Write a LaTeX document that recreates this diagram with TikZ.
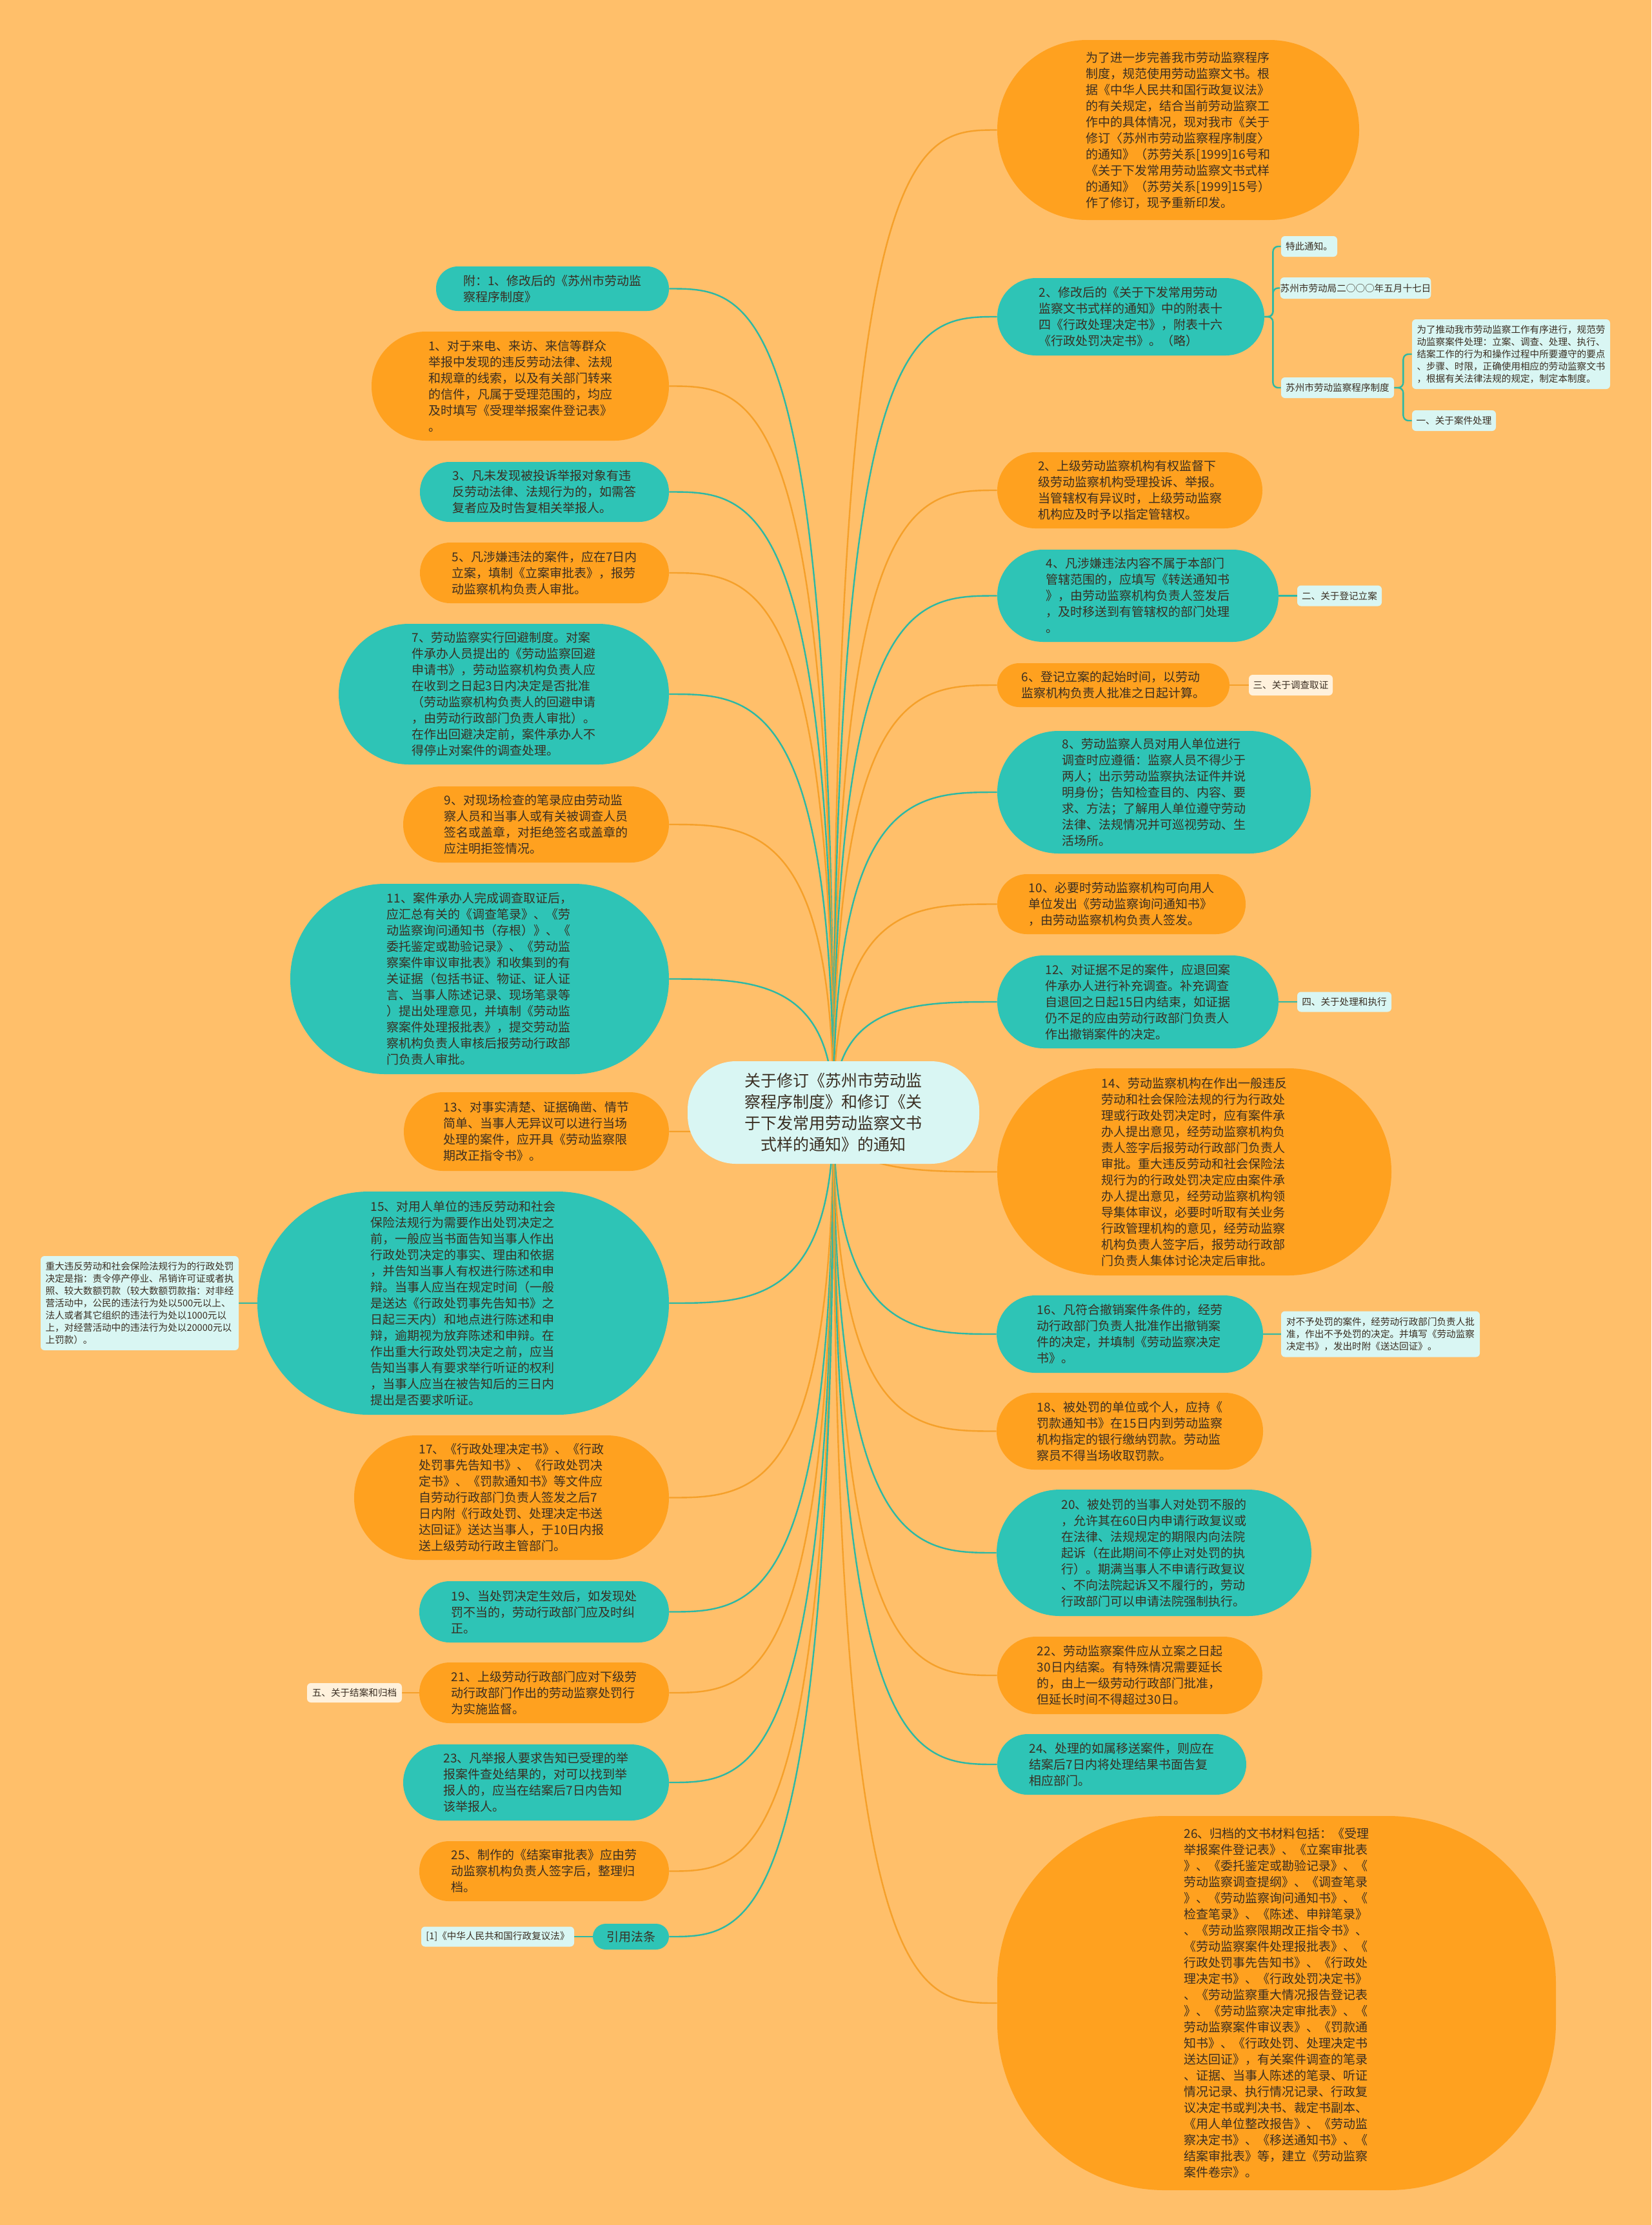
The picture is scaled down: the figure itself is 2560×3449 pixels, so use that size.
\documentclass[tikz,border=0pt]{standalone}
\usepackage{fontspec}
\newfontfamily\cjk{Noto Sans CJK SC}
\usetikzlibrary{calc}
\definecolor{bgc}{HTML}{FFBF6A}
\definecolor{onode}{HTML}{FFA11F}
\definecolor{tnode}{HTML}{2EC4B6}
\definecolor{cnode}{HTML}{D9F6F3}
\definecolor{crnode}{HTML}{FFF1DC}
\definecolor{txt}{HTML}{3A2E22}
\definecolor{oline}{HTML}{F5A02A}
\definecolor{tline}{HTML}{2DB8A4}
\pgfdeclarelayer{bgl}
\pgfdeclarelayer{edl}
\pgfsetlayers{bgl,edl,main}
\tikzset{
  base/.style={inner sep=0pt, align=left, text=txt, font=\cjk\fontsize{9.5pt}{12.5pt}\selectfont},
  obox/.style={base, fill=onode},
  tbox/.style={base, fill=tnode},
  cbox/.style={base, fill=cnode, rounded corners=3pt, font=\cjk\fontsize{7.3pt}{9.5pt}\selectfont},
  crbox/.style={cbox, fill=crnode},
  mw/.style={minimum width=#1*0.5pt},
  mh/.style={minimum height=#1*0.5pt},
  rc/.style={rounded corners=#1*0.5pt},
  oedge/.style={draw=oline, line width=1.2pt},
  tedge/.style={draw=tline, line width=1.2pt},
}
\newcommand{\medge}[3]{%
  \draw[#1] let \p1=(#2.center), \p2=(#3) in
    (\p1) .. controls (\x1,\y2) and ({\x1+0.5*(\x2-\x1)},\y2) .. (\p2);}
\begin{document}
\begin{tikzpicture}[x=0.5pt,y=-0.5pt]
\begin{pgfonlayer}{bgl}
\fill[bgc] (0,0) rectangle (2560,3449);
\end{pgfonlayer}
\useasboundingbox (0,0) rectangle (2560,3449);

% centre
\node[base, fill=cnode, align=center, mw=452, mh=159, rc=75, font=\cjk\fontsize{12.5pt}{16.4pt}\selectfont] (c) at (1292,1724.5)
{关于修订《苏州市劳动监\\察程序制度》和修订《关\\于下发常用劳动监察文书\\式样的通知》的通知};

% ---------------- right side
\node[obox, mw=561, mh=279, rc=139] (r0) at (1826.5,201.5)
{为了进一步完善我市劳动监察程序\\制度，规范使用劳动监察文书。根\\据《中华人民共和国行政复议法》\\的有关规定，结合当前劳动监察工\\作中的具体情况，现对我市《关于\\修订〈苏州市劳动监察程序制度〉\\的通知》（苏劳关系[1999]16号和\\《关于下发常用劳动监察文书式样\\的通知》（苏劳关系[1999]15号）\\作了修订，现予重新印发。};

\node[tbox, mw=414, mh=120, rc=60] (r2mod) at (1753,491)
{2、修改后的《关于下发常用劳动\\监察文书式样的通知》中的附表十\\四《行政处理决定书》，附表十六\\《行政处罚决定书》。（略）};
\node[cbox, mw=87, mh=32] (rt1) at (2029.5,382) {特此通知。};
\node[cbox, mw=231, mh=33] (rt2) at (2101.5,446.5) {苏州市劳动局二○○○年五月十七日};
\node[cbox, mw=175, mh=32] (rt3) at (2073.5,601) {苏州市劳动监察程序制度};
\node[cbox, mw=307, mh=108] (rt4) at (2342.5,549)
{为了推动我市劳动监察工作有序进行，规范劳\\动监察案件处理：立案、调查、处理、执行、\\结案工作的行为和操作过程中所要遵守的要点\\、步骤、时限，正确使用相应的劳动监察文书\\，根据有关法律法规的规定，制定本制度。};
\node[cbox, mw=130, mh=32] (rt5) at (2254,652) {一、关于案件处理};

\node[obox, mw=411, mh=118, rc=59] (r2sup) at (1751.5,760)
{2、上级劳动监察机构有权监督下\\级劳动监察机构受理投诉、举报。\\当管辖权有异议时，上级劳动监察\\机构应及时予以指定管辖权。};

\node[tbox, mw=436, mh=143, rc=71] (r4) at (1764,923.5)
{4、凡涉嫌违法内容不属于本部门\\管辖范围的，应填写《转送通知书\\》，由劳动监察机构负责人签发后\\，及时移送到有管辖权的部门处理\\。};
\node[cbox, mw=131, mh=32] (r4l) at (2076.5,923.5) {二、关于登记立案};

\node[obox, mw=360, mh=68, rc=34] (r6) at (1726,1062)
{6、登记立案的起始时间，以劳动\\监察机构负责人批准之日起计算。};
\node[crbox, mw=130, mh=32] (r6l) at (2001,1062) {三、关于调查取证};

\node[tbox, mw=486, mh=190, rc=95] (r8) at (1789,1228)
{8、劳动监察人员对用人单位进行\\调查时应遵循：监察人员不得少于\\两人；出示劳动监察执法证件并说\\明身份；告知检查目的、内容、要\\求、方法；了解用人单位遵守劳动\\法律、法规情况并可巡视劳动、生\\活场所。};

\node[obox, mw=385, mh=93, rc=46] (r10) at (1738.5,1401.5)
{10、必要时劳动监察机构可向用人\\单位发出《劳动监察询问通知书》\\，由劳动监察机构负责人签发。};

\node[tbox, mw=436, mh=144, rc=72] (r12) at (1764,1553)
{12、对证据不足的案件，应退回案\\件承办人进行补充调查。补充调查\\自退回之日起15日内结束，如证据\\仍不足的应由劳动行政部门负责人\\作出撤销案件的决定。};
\node[cbox, mw=146, mh=31] (r12l) at (2084,1553) {四、关于处理和执行};

\node[obox, mw=611, mh=321, rc=160] (r14) at (1851.5,1816.5)
{14、劳动监察机构在作出一般违反\\劳动和社会保险法规的行为行政处\\理或行政处罚决定时，应有案件承\\办人提出意见，经劳动监察机构负\\责人签字后报劳动行政部门负责人\\审批。重大违反劳动和社会保险法\\规行为的行政处罚决定应由案件承\\办人提出意见，经劳动监察机构领\\导集体审议，必要时听取有关业务\\行政管理机构的意见，经劳动监察\\机构负责人签字后，报劳动行政部\\门负责人集体讨论决定后审批。};

\node[tbox, mw=413, mh=120, rc=60] (r16) at (1751.5,2068)
{16、凡符合撤销案件条件的，经劳\\动行政部门负责人批准作出撤销案\\件的决定，并填制《劳动监察决定\\书》。};
\node[cbox, mw=308, mh=71] (r16l) at (2140,2068)
{对不予处罚的案件，经劳动行政部门负责人批\\准，作出不予处罚的决定。并填写《劳动监察\\决定书》，发出时附《送达回证》。};

\node[obox, mw=413, mh=119, rc=59] (r18) at (1751.5,2218.5)
{18、被处罚的单位或个人，应持《\\罚款通知书》在15日内到劳动监察\\机构指定的银行缴纳罚款。劳动监\\察员不得当场收取罚款。};

\node[tbox, mw=488, mh=196, rc=98] (r20) at (1789,2407)
{20、被处罚的当事人对处罚不服的\\，允许其在60日内申请行政复议或\\在法律、法规规定的期限内向法院\\起诉（在此期间不停止对处罚的执\\行）。期满当事人不申请行政复议\\、不向法院起诉又不履行的，劳动\\行政部门可以申请法院强制执行。};

\node[obox, mw=411, mh=120, rc=60] (r22) at (1751.5,2597)
{22、劳动监察案件应从立案之日起\\30日内结案。有特殊情况需要延长\\的，由上一级劳动行政部门批准，\\但延长时间不得超过30日。};

\node[tbox, mw=386, mh=94, rc=47] (r24) at (1739,2735)
{24、处理的如属移送案件，则应在\\结案后7日内将处理结果书面告复\\相应部门。};

\node[obox, mw=866, mh=580, rc=260] (r26) at (1979,3105)
{26、归档的文书材料包括：《受理\\举报案件登记表》、《立案审批表\\》、《委托鉴定或勘验记录》、《\\劳动监察调查提纲》、《调查笔录\\》、《劳动监察询问通知书》、《\\检查笔录》、《陈述、申辩笔录》\\、《劳动监察限期改正指令书》、\\《劳动监察案件处理报批表》、《\\行政处罚事先告知书》、《行政处\\理决定书》、《行政处罚决定书》\\、《劳动监察重大情况报告登记表\\》、《劳动监察决定审批表》、《\\劳动监察案件审议表》、《罚款通\\知书》、《行政处罚、处理决定书\\送达回证》，有关案件调查的笔录\\、证据、当事人陈述的笔录、听证\\情况记录、执行情况记录、行政复\\议决定书或判决书、裁定书副本、\\《用人单位整改报告》、《劳动监\\察决定书》、《移送通知书》、《\\结案审批表》等，建立《劳动监察\\案件卷宗》。};

% ---------------- left side
\node[tbox, mw=361, mh=69, rc=34] (l0) at (856.5,447.5)
{附：1、修改后的《苏州市劳动监\\察程序制度》};

\node[obox, mw=461, mh=169, rc=84] (l1) at (806.5,598.5)
{1、对于来电、来访、来信等群众\\举报中发现的违反劳动法律、法规\\和规章的线索，以及有关部门转来\\的信件，凡属于受理范围的，均应\\及时填写《受理举报案件登记表》\\。};

\node[tbox, mw=386, mh=93, rc=46] (l3) at (844,762.5)
{3、凡未发现被投诉举报对象有违\\反劳动法律、法规行为的，如需答\\复者应及时告复相关举报人。};

\node[obox, mw=386, mh=94, rc=47] (l5) at (844,888)
{5、凡涉嫌违法的案件，应在7日内\\立案，填制《立案审批表》，报劳\\动监察机构负责人审批。};

\node[tbox, mw=512, mh=218, rc=109] (l7) at (781,1076)
{7、劳动监察实行回避制度。对案\\件承办人员提出的《劳动监察回避\\申请书》，劳动监察机构负责人应\\在收到之日起3日内决定是否批准\\（劳动监察机构负责人的回避申请\\，由劳动行政部门负责人审批）。\\在作出回避决定前，案件承办人不\\得停止对案件的调查处理。};

\node[obox, mw=412, mh=118, rc=59] (l9) at (831,1278)
{9、对现场检查的笔录应由劳动监\\察人员和当事人或有关被调查人员\\签名或盖章，对拒绝签名或盖章的\\应注明拒签情况。};

\node[tbox, mw=587, mh=295, rc=147] (l11) at (743.5,1517.5)
{11、案件承办人完成调查取证后，\\应汇总有关的《调查笔录》、《劳\\动监察询问通知书（存根）》、《\\委托鉴定或勘验记录》、《劳动监\\察案件审议审批表》和收集到的有\\关证据（包括书证、物证、证人证\\言、当事人陈述记录、现场笔录等\\）提出处理意见，并填制《劳动监\\察案件处理报批表》，提交劳动监\\察机构负责人审核后报劳动行政部\\门负责人审批。};

\node[obox, mw=411, mh=122, rc=61] (l13) at (831.5,1754)
{13、对事实清楚、证据确凿、情节\\简单、当事人无异议可以进行当场\\处理的案件，应开具《劳动监察限\\期改正指令书》。};

\node[tbox, mw=638, mh=346, rc=173] (l15) at (718,2020)
{15、对用人单位的违反劳动和社会\\保险法规行为需要作出处罚决定之\\前，一般应当书面告知当事人作出\\行政处罚决定的事实、理由和依据\\，并告知当事人有权进行陈述和申\\辩。当事人应当在规定时间（一般\\是送达《行政处罚事先告知书》之\\日起三天内）和地点进行陈述和申\\辩，逾期视为放弃陈述和申辩。在\\作出重大行政处罚决定之前，应当\\告知当事人有要求举行听证的权利\\，当事人应当在被告知后的三日内\\提出是否要求听证。};
\node[cbox, mw=307, mh=146] (l15l) at (216.5,2020)
{重大违反劳动和社会保险法规行为的行政处罚\\决定是指：责令停产停业、吊销许可证或者执\\照、较大数额罚款（较大数额罚款指：对非经\\营活动中，公民的违法行为处以500元以上、\\法人或者其它组织的违法行为处以1000元以\\上，对经营活动中的违法行为处以20000元以\\上罚款）。};

\node[obox, mw=488, mh=193, rc=96] (l17) at (793,2321.5)
{17、《行政处理决定书》、《行政\\处罚事先告知书》、《行政处罚决\\定书》、《罚款通知书》等文件应\\自劳动行政部门负责人签发之后7\\日内附《行政处罚、处理决定书送\\达回证》送达当事人，于10日内报\\送上级劳动行政主管部门。};

\node[tbox, mw=387, mh=95, rc=47] (l19) at (843.5,2498.5)
{19、当处罚决定生效后，如发现处\\罚不当的，劳动行政部门应及时纠\\正。};

\node[obox, mw=387, mh=94, rc=47] (l21) at (843.5,2624)
{21、上级劳动行政部门应对下级劳\\动行政部门作出的劳动监察处罚行\\为实施监督。};
\node[crbox, mw=147, mh=30] (l21l) at (549.5,2624) {五、关于结案和归档};

\node[tbox, mw=412, mh=118, rc=59] (l23) at (831,2763)
{23、凡举报人要求告知已受理的举\\报案件查处结果的，对可以找到举\\报人的，应当在结案后7日内告知\\该举报人。};

\node[obox, mw=387, mh=93, rc=46] (l25) at (843.5,2900.5)
{25、制作的《结案审批表》应由劳\\动监察机构负责人签字后，整理归\\档。};

\node[tbox, mw=118, mh=40, rc=20] (l27) at (978,3002) {引用法条};
\node[cbox, mw=237, mh=31] (l27l) at (771.5,3002) {[1]《中华人民共和国行政复议法》};

% ---------------- connectors
\begin{pgfonlayer}{edl}
\medge{tedge}{c}{l0.east}
\medge{oedge}{c}{l1.east}
\medge{tedge}{c}{l3.east}
\medge{oedge}{c}{l5.east}
\medge{tedge}{c}{l7.east}
\medge{oedge}{c}{l9.east}
\medge{tedge}{c}{l11.east}
\medge{oedge}{c}{l13.east}
\medge{tedge}{c}{l15.east}
\medge{oedge}{c}{l17.east}
\medge{tedge}{c}{l19.east}
\medge{oedge}{c}{l21.east}
\medge{tedge}{c}{l23.east}
\medge{oedge}{c}{l25.east}
\medge{tedge}{c}{l27.east}
\medge{oedge}{c}{r0.west}
\medge{tedge}{c}{r2mod.west}
\medge{oedge}{c}{r2sup.west}
\medge{tedge}{c}{r4.west}
\medge{oedge}{c}{r6.west}
\medge{tedge}{c}{r8.west}
\medge{oedge}{c}{r10.west}
\medge{tedge}{c}{r12.west}
\medge{oedge}{c}{r14.west}
\medge{tedge}{c}{r16.west}
\medge{oedge}{c}{r18.west}
\medge{tedge}{c}{r20.west}
\medge{oedge}{c}{r22.west}
\medge{tedge}{c}{r24.west}
\medge{oedge}{c}{r26.west}
% sub branches
\draw[tedge, rounded corners=4pt] (r2mod.east) -- ++(13,0) |- (rt1.west);
\draw[tedge, rounded corners=4pt] (r2mod.east) -- ++(13,0) |- (rt2.west);
\draw[tedge, rounded corners=4pt] (r2mod.east) -- ++(13,0) |- (rt3.west);
\draw[tedge, rounded corners=4pt] (rt3.east) -- ++(14,0) |- (rt4.west);
\draw[tedge, rounded corners=4pt] (rt3.east) -- ++(14,0) |- (rt5.west);
\draw[tedge] (r4.east) -- (r4l.west);
\draw[oedge] (r6.east) -- (r6l.west);
\draw[tedge] (r12.east) -- (r12l.west);
\draw[tedge] (r16.east) -- (r16l.west);
\draw[tedge] (l15.west) -- (l15l.east);
\draw[oedge] (l21.west) -- (l21l.east);
\draw[tedge] (l27.west) -- (l27l.east);
\end{pgfonlayer}
\end{tikzpicture}
\end{document}
